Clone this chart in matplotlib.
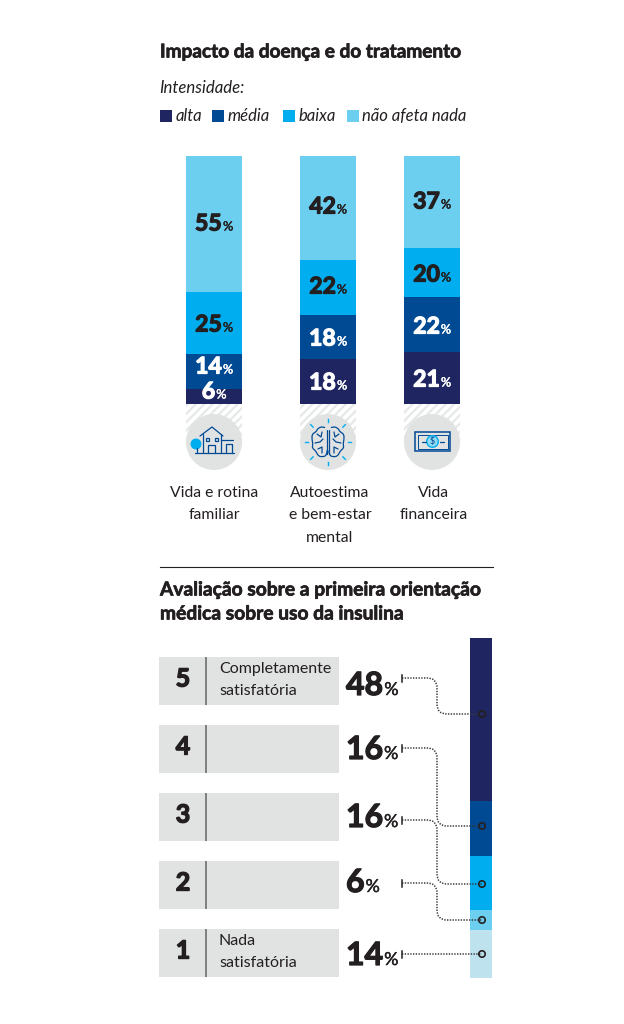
import numpy as np
import matplotlib
matplotlib.use('Agg')
import matplotlib.pyplot as plt
import matplotlib.patheffects as pe
from matplotlib.patches import Rectangle, Circle, PathPatch
from matplotlib.path import Path

NAVY = '#1f2560'
BLUE = '#004a94'
CYAN = '#00aeef'
SKY = '#6dcff0'
PALE = '#bfe3ee'
GRAY = '#e1e3e3'
INK = '#231f20'

HEAVY = 'Lato'
LIGHT = 'Lato'

# top chart
intensity = ['alta', 'média', 'baixa', 'não afeta nada']
topics = ['Vida e rotina\nfamiliar', 'Autoestima\ne bem-estar\nmental', 'Vida\nfinanceira']
alta = [6, 18, 21]
media = [14, 18, 22]
baixa = [25, 22, 20]
nao_afeta = [55, 42, 37]

# bottom chart
scores = ['5', '4', '3', '2', '1']
score_notes = ['Completamente\nsatisfatória', '', '', '', 'Nada\nsatisfatória']
score_pct = [48, 16, 16, 6, 14]

W, H = 624, 1024
matplotlib.rcParams['hatch.linewidth'] = 1.6
fig = plt.figure(figsize=(W / 100, H / 100), dpi=100, facecolor='white')
ax = fig.add_axes([0, 0, 1, 1], zorder=0)
ax.set_xlim(0, W)
ax.set_ylim(H, 0)
ax.axis('off')

ax_top = fig.add_axes([0, 0, 1, 1], zorder=5)
ax_top.set_xlim(0, W)
ax_top.set_ylim(H, 0)
ax_top.axis('off')
ax_top.patch.set_alpha(0)


def pt(px):
    return px * 0.72


def heavy(color, w=0.5):
    # no black weight around, so thicken the bold a bit
    return [pe.withStroke(linewidth=w, foreground=color)]


def pct_label(x, base, value, color, size=22, ha='center'):
    # big number followed by a small percent sign, on the same baseline
    t = ax_top.text(x, base, str(value), family=HEAVY, weight='bold', fontsize=pt(size),
                    color=color, ha='left', va='baseline', path_effects=heavy(color, 0.9))
    fig.canvas.draw()
    bb = t.get_window_extent()
    small = size * 0.56
    left = x
    if ha == 'center':
        left = x - (bb.width + small * 0.85) / 2
        t.set_x(left)
    ax_top.text(left + bb.width + 1, base, '%', family=HEAVY, weight='normal',
                fontsize=pt(small), color=color, ha='left', va='baseline',
                path_effects=heavy(color, 0.3))


def smooth(points):
    # quadratic curve through the midpoints of the given points
    pts = [np.array(p, float) for p in points]
    verts = [(pts[0] + pts[1]) / 2]
    codes = [Path.MOVETO]
    for a, b in zip(pts[1:-1], pts[2:]):
        verts += [a, (a + b) / 2]
        codes += [Path.CURVE3, Path.CURVE3]
    return Path(verts, codes)


ax.text(160, 52, 'Impacto da doença e do tratamento', family=HEAVY, weight='bold',
        fontsize=pt(19), color=INK, va='center', path_effects=heavy(INK))
ax.text(159, 88, 'Intensidade:', family=LIGHT, style='italic', fontsize=pt(16.8),
        color=INK, va='center')

legend_x = [160, 212, 283, 347]
for name, lx, col in zip(intensity, legend_x, [NAVY, BLUE, CYAN, SKY]):
    ax.add_patch(Rectangle((lx, 110), 12, 12, color=col, lw=0))
    ax.text(lx + 15.5, 116, name, family=LIGHT, style='italic', fontsize=pt(16.6),
            color=INK, va='center')

# stacked bars, in an axes of their own with a 0-100 scale
bar_ax = fig.add_axes([0, 1 - 404 / H, 1, 248 / H], zorder=1)
bar_ax.set_xlim(0, W)
bar_ax.set_ylim(0, 100)
bar_ax.axis('off')
bar_ax.patch.set_alpha(0)
centers = [214, 328, 432]
label_y = {NAVY: [390, 381, 378], BLUE: [365, 337, 325], CYAN: [323, 285, 273], SKY: [222, 205, 200]}
bottom = np.zeros(3)
for vals, col in zip([alta, media, baixa, nao_afeta], [NAVY, BLUE, CYAN, SKY]):
    bar_ax.bar(centers, vals, width=56, bottom=bottom, color=col, lw=0)
    txt = 'white' if col in (NAVY, BLUE) else INK
    for cx, v, ly in zip(centers, vals, label_y[col]):
        pct_label(cx, ly + 8.5, v, txt, size=23)
    bottom += vals

# hatched stub and gray disc below each bar
for cx in centers:
    ax.add_patch(Rectangle((cx - 28, 404), 56, 38, facecolor='white',
                           edgecolor='#e6e8e8', hatch='////', lw=0))
    ax.add_patch(Circle((cx, 442), 28, color=GRAY, lw=0))

for lx, label in zip([214.5, 330, 434], topics):
    ax.text(lx, 486, label, family=LIGHT, fontsize=pt(15.8), color=INK,
            ha='center', va='top', linespacing=1.77)

# house icon
ic = dict(color=BLUE, lw=0.9, solid_capstyle='round', solid_joinstyle='round')
ax.plot([195, 234], [453, 453], **ic)
ax.plot([200, 212, 223], [436, 427, 436], **ic)
ax.plot([203, 203], [434, 453], **ic)
ax.plot([221, 221], [434, 453], **ic)
ax.plot([221, 233], [440, 440], **ic)
ax.plot([232, 232, 226, 226], [453, 444, 444, 453], **ic)
ax.plot([208, 208, 215, 215], [453, 445, 445, 453], **ic)
for wx in (205.5, 214.5):
    ax.add_patch(Rectangle((wx, 437.5), 3.5, 3, fill=False, ec=BLUE, lw=0.9))
ax.add_patch(Circle((196, 444), 5.5, color=CYAN, lw=0))
ax.plot([197, 197], [448, 453], **ic)

# brain icon
bx, by = 328, 442
lobe = [(1, -13), (5, -15.5), (10, -14), (12, -10), (16, -8), (16, -2), (15, 2), (16, 6),
        (12, 9), (10, 14), (5, 15), (1, 13), (1, 4)]
for sign in (-1, 1):
    pts = [(bx + sign * p[0], by + p[1]) for p in lobe]
    ax.add_patch(PathPatch(smooth(pts), fill=False, ec=BLUE, lw=0.9))
    ax.plot([bx + sign * 1, bx + sign * 1], [by - 12, by + 12], **ic)
    wig1 = [(bx + sign * 11, by - 8), (bx + sign * 7, by - 5), (bx + sign * 6, by - 10)]
    wig2 = [(bx + sign * 13, by + 1), (bx + sign * 8, by), (bx + sign * 5, by - 3)]
    wig3 = [(bx + sign * 10, by + 7), (bx + sign * 6, by + 5), (bx + sign * 6, by + 11)]
    for w in (wig1, wig2, wig3):
        ax.plot([p[0] for p in w], [p[1] for p in w], **ic)
for ang in np.arange(0, 360, 45):
    c, s = np.cos(np.radians(ang)), np.sin(np.radians(ang))
    r0, r1 = (21, 24.5) if ang % 90 else (20, 23)
    ax.plot([bx + r0 * c, bx + r1 * c], [by + r0 * s, by + r1 * s], color=CYAN, lw=1.0)

# banknote icon
mx, my = 432.5, 441.5
ax.add_patch(Rectangle((mx - 17.5, my - 9.5), 35, 19, fill=False, ec=BLUE, lw=1.1))
ax.add_patch(Rectangle((mx - 15, my - 7), 30, 14, fill=False, ec=BLUE, lw=0.7))
ax.plot([mx - 11, mx - 7], [my, my], **ic)
ax.plot([mx + 7, mx + 11], [my, my], **ic)
ax.add_patch(Circle((mx, my), 5.8, facecolor='#8fdaf4', ec=CYAN, lw=1))
ax.text(mx, my, r'\$', family='Lato', fontsize=pt(9), color=BLUE, ha='center', va='center')

ax.plot([160, 493], [567, 567], color=INK, lw=0.8)

ax.text(160, 590, 'Avaliação sobre a primeira orientação', family=HEAVY, weight='bold',
        fontsize=pt(19.2), color=INK, va='center', path_effects=heavy(INK))
ax.text(160, 614, 'médica sobre uso da insulina', family=HEAVY, weight='bold',
        fontsize=pt(19.2), color=INK, va='center', path_effects=heavy(INK))

# score rows
row_tops = [657, 725, 793, 861, 929]
row_base = [695, 759, 827, 892, 965]
for top, base, score, note, val in zip(row_tops, row_base, scores, score_notes, score_pct):
    ax.add_patch(Rectangle((159, top), 180, 48, color=GRAY, lw=0))
    ax.plot([206, 206], [top, top + 48], color='#6d6e70', lw=1.2, solid_capstyle='butt')
    ax.text(183, top + 22, score, family=HEAVY, weight='bold', fontsize=pt(25),
            color=INK, ha='center', va='center', path_effects=heavy(INK, 1.0))
    if note:
        ax.text(219, top + 23, note, family=LIGHT, fontsize=pt(16), color=INK,
                va='center', linespacing=1.7)
    pct_label(346, base, val, INK, size=32, ha='left')

# single stacked column on the right, top down
col_ax = fig.add_axes([0, 1 - 978 / H, 1, 340 / H], zorder=1)
col_ax.set_xlim(0, W)
col_ax.set_ylim(100, 0)
col_ax.axis('off')
col_ax.patch.set_alpha(0)
start = 0
for val, col in zip(score_pct, [NAVY, BLUE, CYAN, SKY, PALE]):
    col_ax.bar([481], [val], width=22, bottom=[start], color=col, lw=0)
    start += val


def leader(y0, y1):
    # dotted elbow from the percent label to its marker on the column
    kx = 437
    r = 10
    if abs(y1 - y0) < 2:
        verts = [(402, y0), (482, y1)]
        codes = [Path.MOVETO, Path.LINETO]
    else:
        verts = [(402, y0), (kx - r, y0), (kx, y0), (kx, y0 + r), (kx, y1 - r), (kx, y1),
                 (kx + r, y1), (482, y1)]
        codes = [Path.MOVETO, Path.LINETO, Path.CURVE3, Path.CURVE3, Path.LINETO,
                 Path.CURVE3, Path.CURVE3, Path.LINETO]
    ax_top.add_patch(PathPatch(Path(verts, codes), fill=False, ec='#3a3a3c', lw=1.1,
                               ls=(0, (0.9, 0.9))))
    ax_top.plot([402, 402], [y0 - 3.5, y0 + 3.5], color=INK, lw=1.1)
    ax_top.add_patch(Circle((482, y1), 3.2, facecolor='none', ec=INK, lw=1.2))


for y0, y1 in zip([678, 748, 820, 883, 954], [714, 826, 884, 920, 954]):
    leader(y0, y1)

fig.savefig('out.png', dpi=100)
